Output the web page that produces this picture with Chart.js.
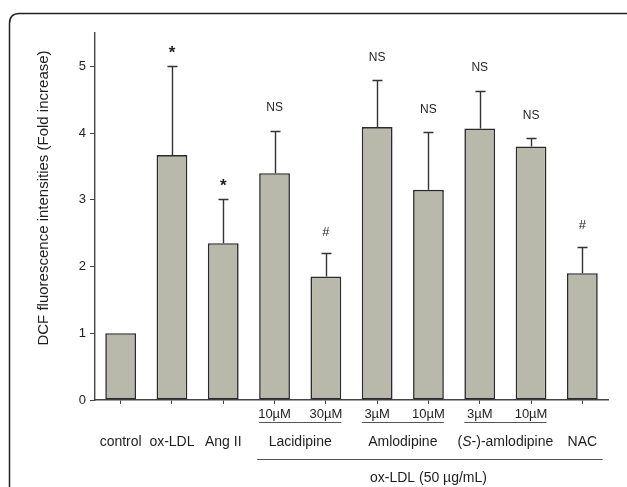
<!DOCTYPE html>
<html>
<head>
<meta charset="utf-8">
<script src="https://cdn.jsdelivr.net/npm/chart.js@4.4.1/dist/chart.umd.min.js"></script>
<style>
  html, body { margin: 0; padding: 0; background: #fff; }
  #wrap { width: 627px; height: 487px; }
</style>
</head>
<body>
<div id="wrap"><canvas id="c"></canvas></div>
<script>
// values
const doseLabels = ['', '', '', '10µM', '30µM', '3µM', '10µM', '3µM', '10µM', ''];
const meanValues = [1.00, 3.67, 2.35, 3.40, 1.85, 4.09, 3.15, 4.07, 3.80, 1.90];
const errValues = [0, 1.33, 0.66, 0.63, 0.35, 0.70, 0.86, 0.56, 0.12, 0.40];
const marks = ['', '*', '*', 'NS', '#', 'NS', 'NS', 'NS', 'NS', '#'];
const groupNames = ['control', 'ox-LDL', 'Ang II', 'Lacidipine', 'Amlodipine', '(S-)-amlodipine', 'NAC'];
const groupFirst = [0, 1, 2, 3, 5, 7, 9];
const groupLast = [0, 1, 2, 4, 6, 8, 9];
const yTicks = [0, 1, 2, 3, 4, 5];
const yMax = 5.5;
const yTitle = 'DCF fluorescence intensities (Fold increase)';
const bottomNote = 'ox-LDL (50 µg/mL)';

const FONT = '"Liberation Sans", Arial, sans-serif';
const INK = '#1e1e1e';

// rounded frame round the whole figure
const framePlugin = {
    id: 'frame',
    beforeDraw(chart) {
        let ctx = chart.ctx;
        ctx.save();
        ctx.fillStyle = '#fff';
        ctx.fillRect(0, 0, chart.width, chart.height);
        ctx.strokeStyle = '#222';
        ctx.lineWidth = 1.5;
        let x = 9.5, y = 13.5, w = 640, h = 520, r = 10;
        ctx.beginPath();
        ctx.moveTo(x + r, y);
        ctx.lineTo(x + w, y);
        ctx.moveTo(x, y + h);
        ctx.lineTo(x, y + r);
        ctx.quadraticCurveTo(x, y, x + r, y);
        ctx.stroke();
        ctx.restore();
    }
};

// error bars, significance marks, group labels
const extrasPlugin = {
    id: 'extras',
    afterDraw(chart) {
        let ctx = chart.ctx;
        let xs = chart.scales.x;
        let ys = chart.scales.y;
        let bars = chart.getDatasetMeta(0).data;
        ctx.save();

        // upper error bars
        ctx.strokeStyle = '#333';
        ctx.lineWidth = 1.4;
        for (let i = 0; i < meanValues.length; i++) {
            if (!errValues[i]) continue;
            let cx = Math.round(xs.getPixelForValue(i)) + 0.5;
            let y0 = ys.getPixelForValue(meanValues[i]);
            let y1 = Math.round(ys.getPixelForValue(meanValues[i] + errValues[i])) + 0.5;
            ctx.beginPath();
            ctx.moveTo(cx, y0);
            ctx.lineTo(cx, y1);
            ctx.moveTo(cx - 5, y1);
            ctx.lineTo(cx + 5, y1);
            ctx.stroke();
        }

        // significance marks
        ctx.fillStyle = INK;
        ctx.textAlign = 'center';
        ctx.textBaseline = 'middle';
        for (let i = 0; i < marks.length; i++) {
            if (!marks[i]) continue;
            let cx = xs.getPixelForValue(i);
            let yTop = ys.getPixelForValue(meanValues[i] + errValues[i]);
            if (marks[i] == '*') {
                ctx.font = 'bold 17px ' + FONT;
                ctx.fillText('*', cx, yTop - 13);
            } else if (marks[i] == '#') {
                ctx.font = '13px ' + FONT;
                ctx.fillText('#', cx, yTop - 21);
            } else {
                ctx.font = '12px ' + FONT;
                ctx.fillText(marks[i], cx, yTop - 23);
            }
        }

        // underline under each pair of doses
        ctx.strokeStyle = '#555';
        ctx.lineWidth = 1;
        for (let g = 0; g < groupNames.length; g++) {
            if (groupFirst[g] == groupLast[g]) continue;
            let a = bars[groupFirst[g]], b = bars[groupLast[g]];
            ctx.beginPath();
            ctx.moveTo(a.x - a.width / 2, 422.5);
            ctx.lineTo(b.x + b.width / 2, 422.5);
            ctx.stroke();
        }

        // group names
        ctx.font = '14px ' + FONT;
        for (let g = 0; g < groupNames.length; g++) {
            let cx = (xs.getPixelForValue(groupFirst[g]) + xs.getPixelForValue(groupLast[g])) / 2;
            if (groupNames[g].startsWith('(S-)')) {
                // italic S
                let p1 = '(', p2 = 'S', p3 = '-)-amlodipine';
                ctx.font = '14px ' + FONT;
                let w1 = ctx.measureText(p1).width, w3 = ctx.measureText(p3).width;
                ctx.font = 'italic 14px ' + FONT;
                let w2 = ctx.measureText(p2).width;
                let left = cx - (w1 + w2 + w3) / 2;
                ctx.textAlign = 'left';
                ctx.font = '14px ' + FONT;
                ctx.fillText(p1, left, 442);
                ctx.font = 'italic 14px ' + FONT;
                ctx.fillText(p2, left + w1, 442);
                ctx.font = '14px ' + FONT;
                ctx.fillText(p3, left + w1 + w2, 442);
                ctx.textAlign = 'center';
            } else {
                ctx.fillText(groupNames[g], cx, 442);
            }
        }

        // long bracket line and note
        let first = bars[3], last = bars[bars.length - 1];
        ctx.beginPath();
        ctx.moveTo(first.x - first.width / 2 - 2, 459.5);
        ctx.lineTo(last.x + last.width / 2 + 5, 459.5);
        ctx.stroke();
        ctx.font = '14px ' + FONT;
        ctx.fillText(bottomNote, (first.x + last.x) / 2, 478);

        // y axis title
        ctx.translate(44, 198);
        ctx.rotate(-Math.PI / 2);
        ctx.font = '15px ' + FONT;
        ctx.fillText(yTitle, 0, 0);

        ctx.restore();
    }
};

new Chart(document.getElementById('c'), {
    type: 'bar',
    data: {
        labels: doseLabels,
        datasets: [{
            data: meanValues,
            backgroundColor: '#b8b8ab',
            borderColor: '#2a2a2a',
            borderWidth: 1.6,
            borderSkipped: false,
            barPercentage: 0.6,
            categoryPercentage: 1
        }]
    },
    options: {
        responsive: true,
        maintainAspectRatio: false,
        animation: false,
        devicePixelRatio: 1,
        layout: { padding: { left: 55, right: 19, top: 33, bottom: 0 } },
        plugins: { legend: { display: false }, tooltip: { enabled: false } },
        scales: {
            x: {
                offset: true,
                grid: { offset: false, drawOnChartArea: false, drawTicks: true, tickLength: 4, color: '#444' },
                border: { color: '#444', width: 1.4 },
                ticks: { color: INK, font: { family: FONT, size: 13 }, padding: 3, maxRotation: 0, autoSkip: false },
                afterFit(scale) { scale.height = 87; }
            },
            y: {
                min: 0,
                max: yMax,
                afterBuildTicks(axis) { axis.ticks = yTicks.map(v => ({ value: v })); },
                grid: { drawOnChartArea: false, drawTicks: true, tickLength: 5, color: '#444' },
                border: { color: '#444', width: 1.4 },
                ticks: { color: INK, font: { family: FONT, size: 13 }, padding: 4 },
                afterFit(scale) { scale.width = 40; }
            }
        }
    },
    plugins: [framePlugin, extrasPlugin]
});
</script>
</body>
</html>
